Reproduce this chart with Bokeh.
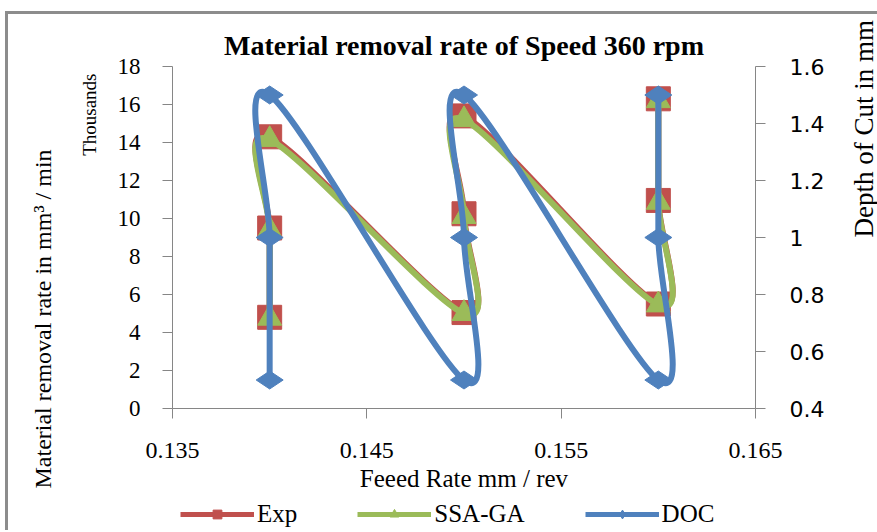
from math import pi
from bokeh.plotting import figure
from bokeh.layouts import column
from bokeh.models import (Range1d, LinearAxis, Legend, LegendItem, Title,
                          FixedTicker, ColumnDataSource)
from bokeh.embed import file_html
from bokeh.resources import INLINE

# ---- data ----
feed = [0.14, 0.14, 0.14, 0.15, 0.15, 0.15, 0.16, 0.16, 0.16]
exp_mrr = [4800, 9500, 14300, 5050, 10250, 15400, 5500, 10950, 16300]
ssa_mrr = [4750, 9400, 14150, 5000, 10100, 15200, 5450, 10850, 16200]
doc = [0.5, 1.0, 1.5, 0.5, 1.0, 1.5, 0.5, 1.0, 1.5]

x_ticks = [0.135, 0.145, 0.155, 0.165]
x_tick_labels = ["0.135", "0.145", "0.155", "0.165"]
left_ticks = [0, 2000, 4000, 6000, 8000, 10000, 12000, 14000, 16000, 18000]
left_tick_labels = ["0", "2", "4", "6", "8", "10", "12", "14", "16", "18"]
right_ticks = [0.4, 0.6, 0.8, 1.0, 1.2, 1.4, 1.6]
right_tick_labels = ["0.4", "0.6", "0.8", "1", "1.2", "1.4", "1.6"]
legend_names = ["Exp", "SSA-GA", "DOC"]

RED, GREEN, BLUE = "#C0504D", "#9BBB59", "#4F81BD"
AXC = "#868686"
SERIF = "Liberation Serif"


def smooth_segments(xs, ys):
    """Catmull-Rom style cubic Bezier segments (like a spreadsheet smoothed line)."""
    n = len(xs)
    d = dict(x0=[], y0=[], x1=[], y1=[], cx0=[], cy0=[], cx1=[], cy1=[])
    for i in range(n - 1):
        i0 = i - 1 if i > 0 else i
        i3 = i + 2 if i + 2 < n else i + 1
        x1, y1, x2, y2 = xs[i], ys[i], xs[i + 1], ys[i + 1]
        d["x0"].append(x1); d["y0"].append(y1)
        d["x1"].append(x2); d["y1"].append(y2)
        d["cx0"].append(x1 + (x2 - xs[i0]) / 6.0)
        d["cy0"].append(y1 + (y2 - ys[i0]) / 6.0)
        d["cx1"].append(x2 - (xs[i3] - x1) / 6.0)
        d["cy1"].append(y2 - (ys[i3] - y1) / 6.0)
    return ColumnDataSource(d)


p = figure(frame_width=583, frame_height=342, output_backend="svg",
           toolbar_location=None,
           x_range=Range1d(0.135, 0.165), y_range=Range1d(0, 18000),
           min_border_left=172, min_border_right=122,
           min_border_top=66, min_border_bottom=0)
p.extra_y_ranges = {"right": Range1d(0.4, 1.6)}
p.xgrid.visible = False
p.ygrid.visible = False
p.outline_line_color = None
p.background_fill_color = "white"
p.border_fill_color = None

p.title.text = "Material removal rate of Speed 360 rpm"
p.title.align = "center"
p.title.text_font = SERIF
p.title.text_font_style = "bold"
p.title.text_font_size = "28px"
p.title.text_color = "black"
p.title.standoff = 11

# x axis
xa = p.xaxis[0]
xa.ticker = FixedTicker(ticks=x_ticks)
xa.major_label_overrides = dict(zip(x_ticks, x_tick_labels))
xa.axis_label = "Feeed Rate mm / rev"

# left axis
ya = p.yaxis[0]
ya.ticker = FixedTicker(ticks=left_ticks)
ya.major_label_overrides = dict(zip(left_ticks, left_tick_labels))

# right axis (ticks and tick labels)
ra = LinearAxis(y_range_name="right", ticker=FixedTicker(ticks=right_ticks),
                major_label_overrides=dict(zip(right_ticks, right_tick_labels)))
p.add_layout(ra, "right")

for ax in (xa, ya, ra):
    ax.axis_line_color = AXC
    ax.major_tick_line_color = AXC
    ax.minor_tick_line_color = None
    ax.major_tick_out = 10
    ax.major_tick_in = 0
    ax.major_label_text_color = "black"
    ax.major_label_text_font_size = "23px"
    ax.major_label_text_font = SERIF
    ax.axis_label_text_font = SERIF
    ax.axis_label_text_font_size = "25px"
    ax.axis_label_text_font_style = "normal"
    ax.axis_label_text_color = "black"

xa.major_label_standoff = 24
xa.major_label_text_font_size = "24px"
xa.axis_label_standoff = 4
ya.major_label_standoff = 22
ra.major_label_standoff = 24
ra.major_label_text_font = "DejaVu Sans"
ra.major_label_text_font_size = "22px"

# right axis title: a bare outer axis carrying only the rotated label
rl = LinearAxis(y_range_name="right", ticker=FixedTicker(ticks=[]),
                bounds=(0.4, 0.84), axis_label="Depth of Cut in mm",
                axis_line_color=None, major_tick_line_color=None,
                minor_tick_line_color=None, major_tick_out=0, major_tick_in=0,
                major_label_standoff=0, axis_label_standoff=36,
                axis_label_text_font=SERIF, axis_label_text_font_size="27px",
                axis_label_text_font_style="normal", axis_label_text_color="black")
try:
    rl.axis_label_orientation = pi / 2
except Exception:
    pass
p.add_layout(rl, "right")

# left titles (stacked outward from the left axis)
t_th = Title(text="Thousands", align="right", offset=7, standoff=30,
             text_font=SERIF, text_font_size="19px", text_font_style="normal",
             text_color="black")
t_main = Title(text="Material removal rate in mm³ / min", align="left",
               offset=-80, standoff=12,
               text_font=SERIF, text_font_size="24px", text_font_style="normal",
               text_color="black")
p.add_layout(t_th, "left")
p.add_layout(t_main, "left")

# series
s_exp = smooth_segments(feed, exp_mrr)
s_ssa = smooth_segments(feed, ssa_mrr)
s_doc = smooth_segments(feed, doc)

p.bezier(x0="x0", y0="y0", x1="x1", y1="y1", cx0="cx0", cy0="cy0",
         cx1="cx1", cy1="cy1", source=s_exp, line_color=RED, line_width=6)
p.scatter(feed, exp_mrr, marker="square", size=24, fill_color=RED, line_color=RED)
p.bezier(x0="x0", y0="y0", x1="x1", y1="y1", cx0="cx0", cy0="cy0",
         cx1="cx1", cy1="cy1", source=s_ssa, line_color=GREEN, line_width=6)
p.scatter(feed, ssa_mrr, marker="triangle", size=24, fill_color=GREEN,
          line_color=GREEN)
p.bezier(x0="x0", y0="y0", x1="x1", y1="y1", cx0="cx0", cy0="cy0",
         cx1="cx1", cy1="cy1", source=s_doc, line_color=BLUE, line_width=6,
         y_range_name="right")
p.scatter(feed, doc, marker="diamond", size=27, angle=pi / 2,
          fill_color=BLUE, line_color=BLUE, y_range_name="right")

# legend strip (separate small figure under the chart)
pl = figure(width=877, height=36, output_backend="svg", toolbar_location=None,
            x_range=Range1d(0, 1), y_range=Range1d(0, 1), min_border=0,
            x_axis_location=None, y_axis_location=None)
pl.xgrid.visible = False
pl.ygrid.visible = False
pl.outline_line_color = None
pl.background_fill_color = None
pl.border_fill_color = None
items = []
for name, col, mk, sz, ang in zip(legend_names, (RED, GREEN, BLUE),
                                  ("square", "triangle", "diamond"),
                                  (17, 20, 24), (0.0, 0.0, pi / 2)):
    ln = pl.line(x=[float("nan")], y=[float("nan")], line_color=col, line_width=5)
    sc = pl.scatter(x=[float("nan")], y=[float("nan")], marker=mk, size=sz,
                    angle=ang, fill_color=col, line_color=col)
    items.append(LegendItem(label=name, renderers=[ln, sc]))
legend = Legend(items=items, orientation="horizontal", location=(8, 2),
                glyph_width=74, glyph_height=22, label_standoff=3, spacing=60,
                padding=0, margin=0, border_line_color=None,
                background_fill_alpha=0,
                label_text_font=SERIF, label_text_font_size="25px",
                label_text_color="black")
pl.add_layout(legend)

layout = column(p, pl, spacing=0)
layout.styles = {
    "background-image": "linear-gradient(#8C8C8C, #8C8C8C), linear-gradient(#8C8C8C, #8C8C8C)",
    "background-size": "3px 100%, 100% 3px",
    "background-position": "5px 11px, 5px 11px",
    "background-repeat": "no-repeat",
}

open("out.html", "w").write(file_html(layout, INLINE))
